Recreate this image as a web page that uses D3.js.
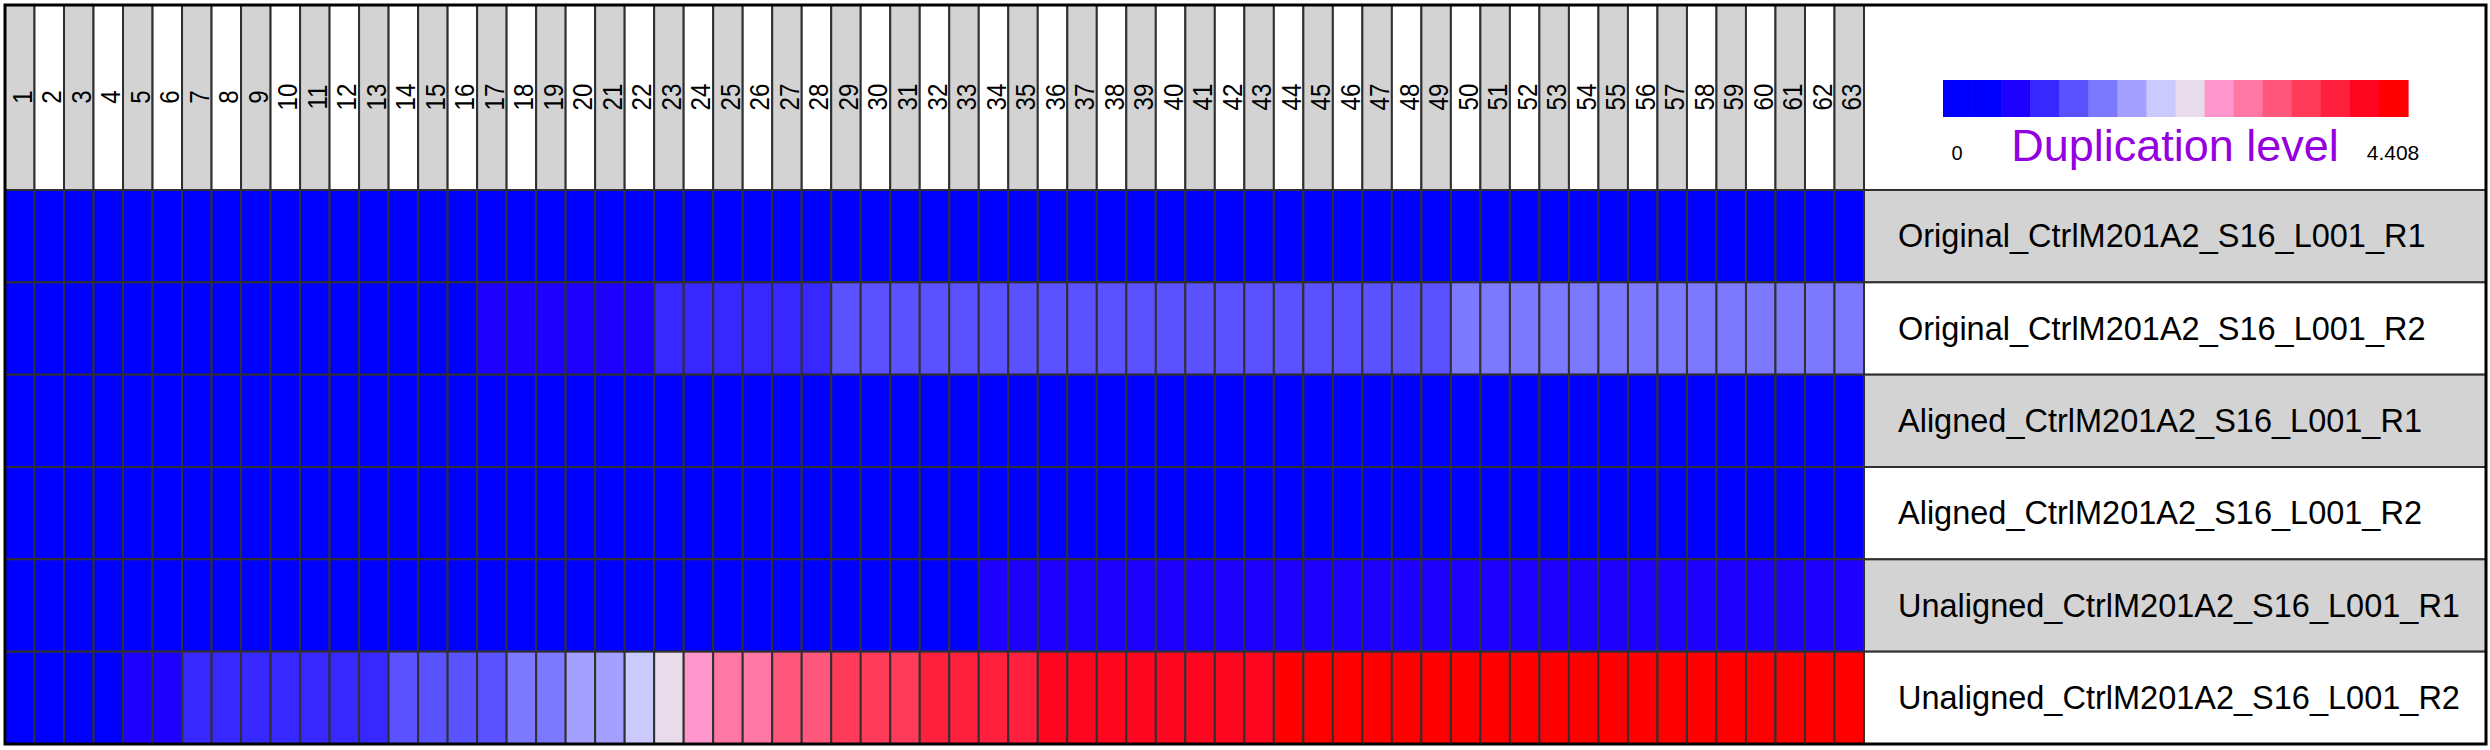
<!DOCTYPE html>
<html>
<head>
<meta charset="utf-8">
<script src="https://cdn.jsdelivr.net/npm/d3@7"></script>
<style>
  html, body { margin: 0; padding: 0; background: #ffffff; }
  svg { display: block; }
  text { font-family: "Liberation Sans", Arial, sans-serif; }
</style>
</head>
<body>
<svg id="chart" width="2490" height="750"></svg>
<script>
// ---------- DATA ----------
const columns = ["1","2","3","4","5","6","7","8","9","10","11","12","13","14","15","16","17","18","19","20",
  "21","22","23","24","25","26","27","28","29","30","31","32","33","34","35","36","37","38","39","40",
  "41","42","43","44","45","46","47","48","49","50","51","52","53","54","55","56","57","58","59","60",
  "61","62","63"];

const rows = [
  "Original_CtrlM201A2_S16_L001_R1",
  "Original_CtrlM201A2_S16_L001_R2",
  "Aligned_CtrlM201A2_S16_L001_R1",
  "Aligned_CtrlM201A2_S16_L001_R2",
  "Unaligned_CtrlM201A2_S16_L001_R1",
  "Unaligned_CtrlM201A2_S16_L001_R2"
];

const originalR1 = [0.12,0.11,0.10,0.10,0.10,0.09,0.09,0.09,0.09,0.09,0.09,0.09,0.09,0.09,0.10,0.10,
  0.10,0.10,0.10,0.10,0.10,0.10,0.11,0.11,0.11,0.11,0.11,0.11,0.11,0.11,0.11,0.11,0.11,0.11,0.11,0.11,
  0.11,0.11,0.11,0.11,0.11,0.11,0.11,0.11,0.11,0.11,0.11,0.11,0.11,0.12,0.12,0.12,0.12,0.12,0.12,0.12,
  0.12,0.12,0.12,0.12,0.12,0.12,0.12];

const originalR2 = [0.30,0.30,0.30,0.31,0.32,0.33,0.34,0.35,0.36,0.37,0.38,0.40,0.42,0.44,0.46,0.50,
  0.62,0.64,0.66,0.68,0.70,0.72,0.92,0.94,0.96,0.98,1.02,1.05,1.22,1.24,1.25,1.25,1.26,1.26,1.27,1.27,
  1.28,1.28,1.28,1.29,1.29,1.29,1.30,1.30,1.30,1.31,1.31,1.32,1.33,1.47,1.48,1.49,1.50,1.50,1.51,1.51,
  1.52,1.52,1.53,1.53,1.54,1.54,1.55];

const alignedR1 = [0.08,0.07,0.07,0.07,0.07,0.06,0.06,0.06,0.06,0.06,0.06,0.06,0.06,0.06,0.06,0.06,
  0.06,0.06,0.06,0.06,0.06,0.06,0.07,0.07,0.07,0.07,0.07,0.07,0.07,0.07,0.07,0.07,0.07,0.07,0.07,0.07,
  0.07,0.07,0.07,0.07,0.07,0.07,0.07,0.07,0.07,0.07,0.07,0.07,0.07,0.07,0.07,0.07,0.07,0.07,0.07,0.07,
  0.07,0.07,0.07,0.07,0.07,0.07,0.07];

const alignedR2 = [0.08,0.08,0.08,0.08,0.08,0.08,0.08,0.08,0.08,0.08,0.08,0.08,0.08,0.08,0.08,0.08,
  0.08,0.08,0.08,0.08,0.08,0.08,0.09,0.09,0.09,0.09,0.09,0.09,0.09,0.09,0.09,0.09,0.09,0.09,0.09,0.09,
  0.09,0.09,0.09,0.09,0.09,0.09,0.09,0.09,0.09,0.09,0.09,0.09,0.09,0.09,0.09,0.09,0.09,0.09,0.09,0.09,
  0.09,0.09,0.09,0.09,0.09,0.09,0.09];

const unalignedR1 = [0.25,0.25,0.26,0.27,0.28,0.29,0.30,0.31,0.32,0.33,0.34,0.35,0.36,0.37,0.38,0.39,
  0.40,0.41,0.42,0.43,0.44,0.45,0.46,0.47,0.48,0.49,0.50,0.50,0.51,0.52,0.53,0.54,0.55,0.60,0.61,0.62,
  0.62,0.63,0.63,0.64,0.64,0.65,0.65,0.66,0.66,0.67,0.67,0.68,0.68,0.69,0.69,0.70,0.70,0.71,0.71,0.72,
  0.72,0.73,0.73,0.74,0.74,0.75,0.75];

const unalignedR2 = [0.20,0.30,0.40,0.45,0.60,0.70,0.90,0.92,0.95,0.97,1.00,1.02,1.05,1.15,1.20,1.25,
  1.30,1.45,1.55,1.70,1.80,2.00,2.30,2.60,2.80,2.90,3.05,3.15,3.35,3.40,3.45,3.60,3.65,3.70,3.75,3.90,
  3.95,4.00,4.02,4.05,4.07,4.10,4.12,4.16,4.18,4.20,4.22,4.24,4.26,4.27,4.28,4.29,4.30,4.31,4.32,4.33,
  4.34,4.35,4.36,4.37,4.38,4.40,4.408];

const seriesValues = [originalR1, originalR2, alignedR1, alignedR2, unalignedR1, unalignedR2];

const legendColors = ["#0000FF","#0000FF","#1E00FF","#3628FF","#5A52FF","#7D79FF","#A3A0FF","#CBCAFF",
  "#E8DCEA","#FF97CC","#FF78A5","#FF587C","#FF3B5A","#FF203D","#FF0620","#FF0000"];
const valueMin = 0;
const valueMax = 4.408;
const legendMinLabel = "0";
const legendMaxLabel = "4.408";
const legendTitle = "Duplication level";

// ---------- LAYOUT ----------
const svg = d3.select("#chart");
const frame = { left: 5, top: 5, right: 2486, bottom: 744 };
const headerBottom = 190;
const heatRight = 1864;
const gridStroke = "#303030";

const x = d3.scaleBand().domain(columns).range([frame.left, heatRight]).padding(0);
const y = d3.scaleBand().domain(rows).range([headerBottom, frame.bottom]).padding(0);
const color = d3.scaleQuantize().domain([valueMin, valueMax]).range(legendColors);

svg.append("rect").attr("x", 0).attr("y", 0).attr("width", 2490).attr("height", 750).attr("fill", "#ffffff");

// header cells
const header = svg.append("g");
header.selectAll("rect").data(columns).join("rect")
  .attr("x", d => x(d)).attr("y", frame.top)
  .attr("width", x.bandwidth()).attr("height", headerBottom - frame.top)
  .attr("fill", (d, i) => i % 2 === 0 ? "#D3D3D3" : "#FFFFFF")
  .attr("stroke", gridStroke).attr("stroke-width", 2);

header.selectAll("text").data(columns).join("text")
  .attr("transform", d => `translate(${x(d) + x.bandwidth() / 2 + 12},97) rotate(-90) scale(0.86,1)`)
  .attr("text-anchor", "middle")
  .attr("font-size", 28)
  .attr("fill", "#000")
  .text(d => d);

// heatmap cells
const cells = [];
rows.forEach((r, ri) => columns.forEach((c, ci) => cells.push({ row: r, col: c, value: seriesValues[ri][ci] })));

svg.append("g").selectAll("rect").data(cells).join("rect")
  .attr("x", d => x(d.col)).attr("y", d => y(d.row))
  .attr("width", x.bandwidth()).attr("height", y.bandwidth())
  .attr("fill", d => color(d.value))
  .attr("stroke", gridStroke).attr("stroke-width", 2);

// row label panel
const rowPanel = svg.append("g");
rowPanel.selectAll("rect").data(rows).join("rect")
  .attr("x", heatRight).attr("y", d => y(d))
  .attr("width", frame.right - heatRight).attr("height", y.bandwidth())
  .attr("fill", (d, i) => i % 2 === 0 ? "#D3D3D3" : "#FFFFFF")
  .attr("stroke", gridStroke).attr("stroke-width", 2);

rowPanel.selectAll("text").data(rows).join("text")
  .attr("x", heatRight + 34)
  .attr("y", d => y(d) + y.bandwidth() / 2 + 11)
  .attr("font-size", 32.5)
  .attr("fill", "#000")
  .text(d => d);

// legend panel
svg.append("rect")
  .attr("x", heatRight).attr("y", frame.top)
  .attr("width", frame.right - heatRight).attr("height", headerBottom - frame.top)
  .attr("fill", "#FFFFFF").attr("stroke", gridStroke).attr("stroke-width", 2);

const lx = d3.scaleBand().domain(d3.range(legendColors.length)).range([1943, 2408]);
svg.append("g").selectAll("rect").data(legendColors).join("rect")
  .attr("x", (d, i) => lx(i)).attr("y", 80)
  .attr("width", lx.bandwidth() + 0.6).attr("height", 37)
  .attr("fill", d => d);

svg.append("text").attr("x", 1957).attr("y", 160).attr("text-anchor", "middle")
  .attr("font-size", 20).attr("fill", "#000").text(legendMinLabel);
svg.append("text").attr("x", 2393).attr("y", 160).attr("text-anchor", "middle")
  .attr("font-size", 21).attr("fill", "#000").text(legendMaxLabel);
svg.append("text").attr("x", 2175).attr("y", 161).attr("text-anchor", "middle")
  .attr("font-size", 45).attr("fill", "#9400E0").text(legendTitle);

// outer frame
svg.append("rect")
  .attr("x", frame.left).attr("y", frame.top)
  .attr("width", frame.right - frame.left).attr("height", frame.bottom - frame.top)
  .attr("fill", "none").attr("stroke", "#000").attr("stroke-width", 3);
</script>
</body>
</html>
